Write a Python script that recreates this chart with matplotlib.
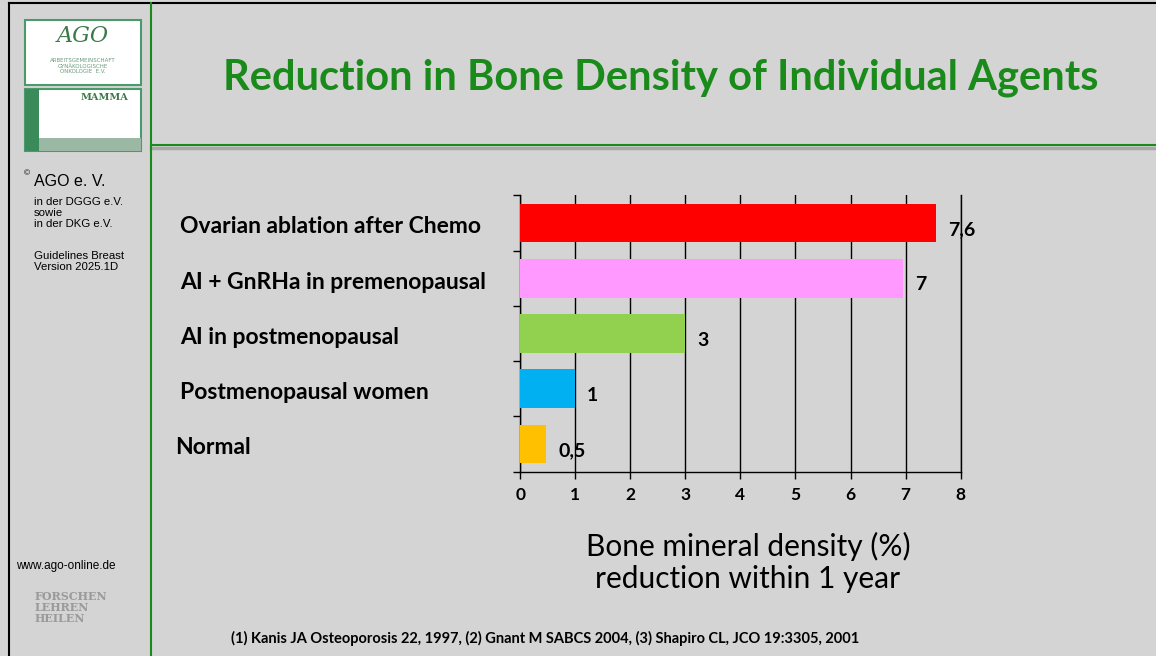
import matplotlib.pyplot as plt
from matplotlib.patches import Rectangle
from matplotlib.transforms import offset_copy

# chart data
categories = ['Ovarian ablation after Chemo', 'AI + GnRHa in premenopausal',
              'AI in postmenopausal', 'Postmenopausal women', 'Normal']
values = [7.55, 6.95, 3, 1, 0.47]
value_labels = ['7,6', '7', '3', '1', '0,5']
bar_colors = ['#ff0000', '#ff99ff', '#92d050', '#00b0f0', '#ffc000']

bg = '#d4d4d4'
green = '#1a8a1a'

fig = plt.figure(figsize=(11.56, 6.56), dpi=100)
fig.patch.set_facecolor(bg)

# frame lines of the slide
fig.add_artist(plt.Line2D([0.008, 0.008], [0, 0.995], color='black', lw=1.5))
fig.add_artist(plt.Line2D([0.008, 1], [0.995, 0.995], color='black', lw=1.5))
fig.add_artist(plt.Line2D([0.131, 1], [0.775, 0.775], color='#a8a8a8', lw=2.5))
fig.add_artist(plt.Line2D([0.131, 0.131], [0, 0.995], color=green, lw=1.5))
fig.add_artist(plt.Line2D([0.131, 1], [0.779, 0.779], color=green, lw=1.5))

# logo boxes
fig.add_artist(Rectangle((0.022, 0.87), 0.1, 0.1, transform=fig.transFigure,
                         facecolor='white', edgecolor='#4a9a6a', lw=1.5))
fig.text(0.072, 0.945, 'AGO', ha='center', va='center', fontsize=16, color='#3a7a4a',
         style='italic', family='DejaVu Serif')
fig.text(0.072, 0.899, 'ARBEITSGEMEINSCHAFT\nGYNÄKOLOGISCHE\nONKOLOGIE  E.V.',
         ha='center', va='center', fontsize=4, color='#6a9a7a', linespacing=1.1)
fig.add_artist(Rectangle((0.022, 0.77), 0.1, 0.095, transform=fig.transFigure,
                         facecolor='white', edgecolor='#4a9a6a', lw=1.5))
fig.add_artist(Rectangle((0.022, 0.77), 0.012, 0.095, transform=fig.transFigure,
                         facecolor='#3a8a5a', edgecolor='none'))
fig.add_artist(Rectangle((0.034, 0.77), 0.088, 0.02, transform=fig.transFigure,
                         facecolor='#9ab8a4', edgecolor='none'))
fig.text(0.09, 0.852, 'MAMMA', ha='center', va='center', fontsize=7, color='#3a7a4a',
         weight='bold', family='DejaVu Serif')

# sidebar text
side = 'Liberation Sans'
fig.text(0.021, 0.729, '©', fontsize=6, family=side, va='bottom')
fig.text(0.029, 0.717, 'AGO e. V.', fontsize=11.5, family=side)
fig.text(0.029, 0.699, 'in der DGGG e.V.\nsowie\nin der DKG e.V.', fontsize=8.2,
         family=side, linespacing=1.12, va='top')
fig.text(0.029, 0.618, 'Guidelines Breast\nVersion 2025.1D', fontsize=8.2,
         family=side, linespacing=1.12, va='top')
fig.text(0.014, 0.132, 'www.ago-online.de', fontsize=8.5, family=side)
fig.text(0.03, 0.052, 'FORSCHEN\nLEHREN\nHEILEN', fontsize=8, family='DejaVu Serif',
         color='#9a9a9a', weight='bold', linespacing=1.0)

# title
fig.text(0.572, 0.882, 'Reduction in Bone Density of Individual Agents', ha='center',
         va='center', fontsize=30, weight='bold', color=green, family='Lato')

# bar chart
ax = fig.add_axes([0.45, 0.281, 0.381, 0.421])
ax.set_facecolor(bg)
ypos = list(range(len(categories)))[::-1]
ax.barh(ypos, values, height=0.7, color=bar_colors, zorder=3)
for y, v, lab in zip(ypos, values, value_labels):
    ax.annotate(lab, (v, y - 0.12), xytext=(12, 0), textcoords='offset pixels',
                va='center', ha='left', fontsize=14, weight='bold', family='Lato', zorder=4)

ax.set_xlim(0, 8)
ax.set_ylim(-0.5, 4.5)
ax.set_xticks(range(9))
ax.set_xticklabels([str(i) for i in range(9)], fontsize=12.5, weight='bold', family='Lato')
for lbl in ax.get_xticklabels():
    lbl.set_transform(offset_copy(lbl.get_transform(), fig=fig, x=6, y=0, units='dots'))
ax.set_yticks([i - 0.5 for i in range(6)])
ax.set_yticklabels([])
ax.tick_params(axis='y', direction='out', length=5, width=1)
ax.tick_params(axis='x', direction='out', length=5, width=1, pad=6)
ax.grid(axis='x', color='black', lw=1, zorder=1)
for s in ['top', 'right', 'left', 'bottom']:
    ax.spines[s].set_color('black')
    ax.spines[s].set_linewidth(1)
ax.spines['top'].set_visible(False)

for y, cat in zip(ypos, categories):
    ax.text(-6.27 if cat == 'Normal' else -6.18, y - 0.07, cat,
            ha='left', va='center', fontsize=16.5, weight='bold', family='Lato')

fig.text(0.647, 0.143, 'Bone mineral density (%)\nreduction within 1 year', ha='center',
         va='center', fontsize=21.5, family='Lato', linespacing=1.17)

fig.text(0.2, 0.02, '(1) Kanis JA Osteoporosis 22, 1997, (2) Gnant M SABCS 2004, '
         '(3) Shapiro CL, JCO 19:3305, 2001', fontsize=10.5, weight='bold', family='Lato')

plt.savefig('out.png', facecolor=fig.get_facecolor())
